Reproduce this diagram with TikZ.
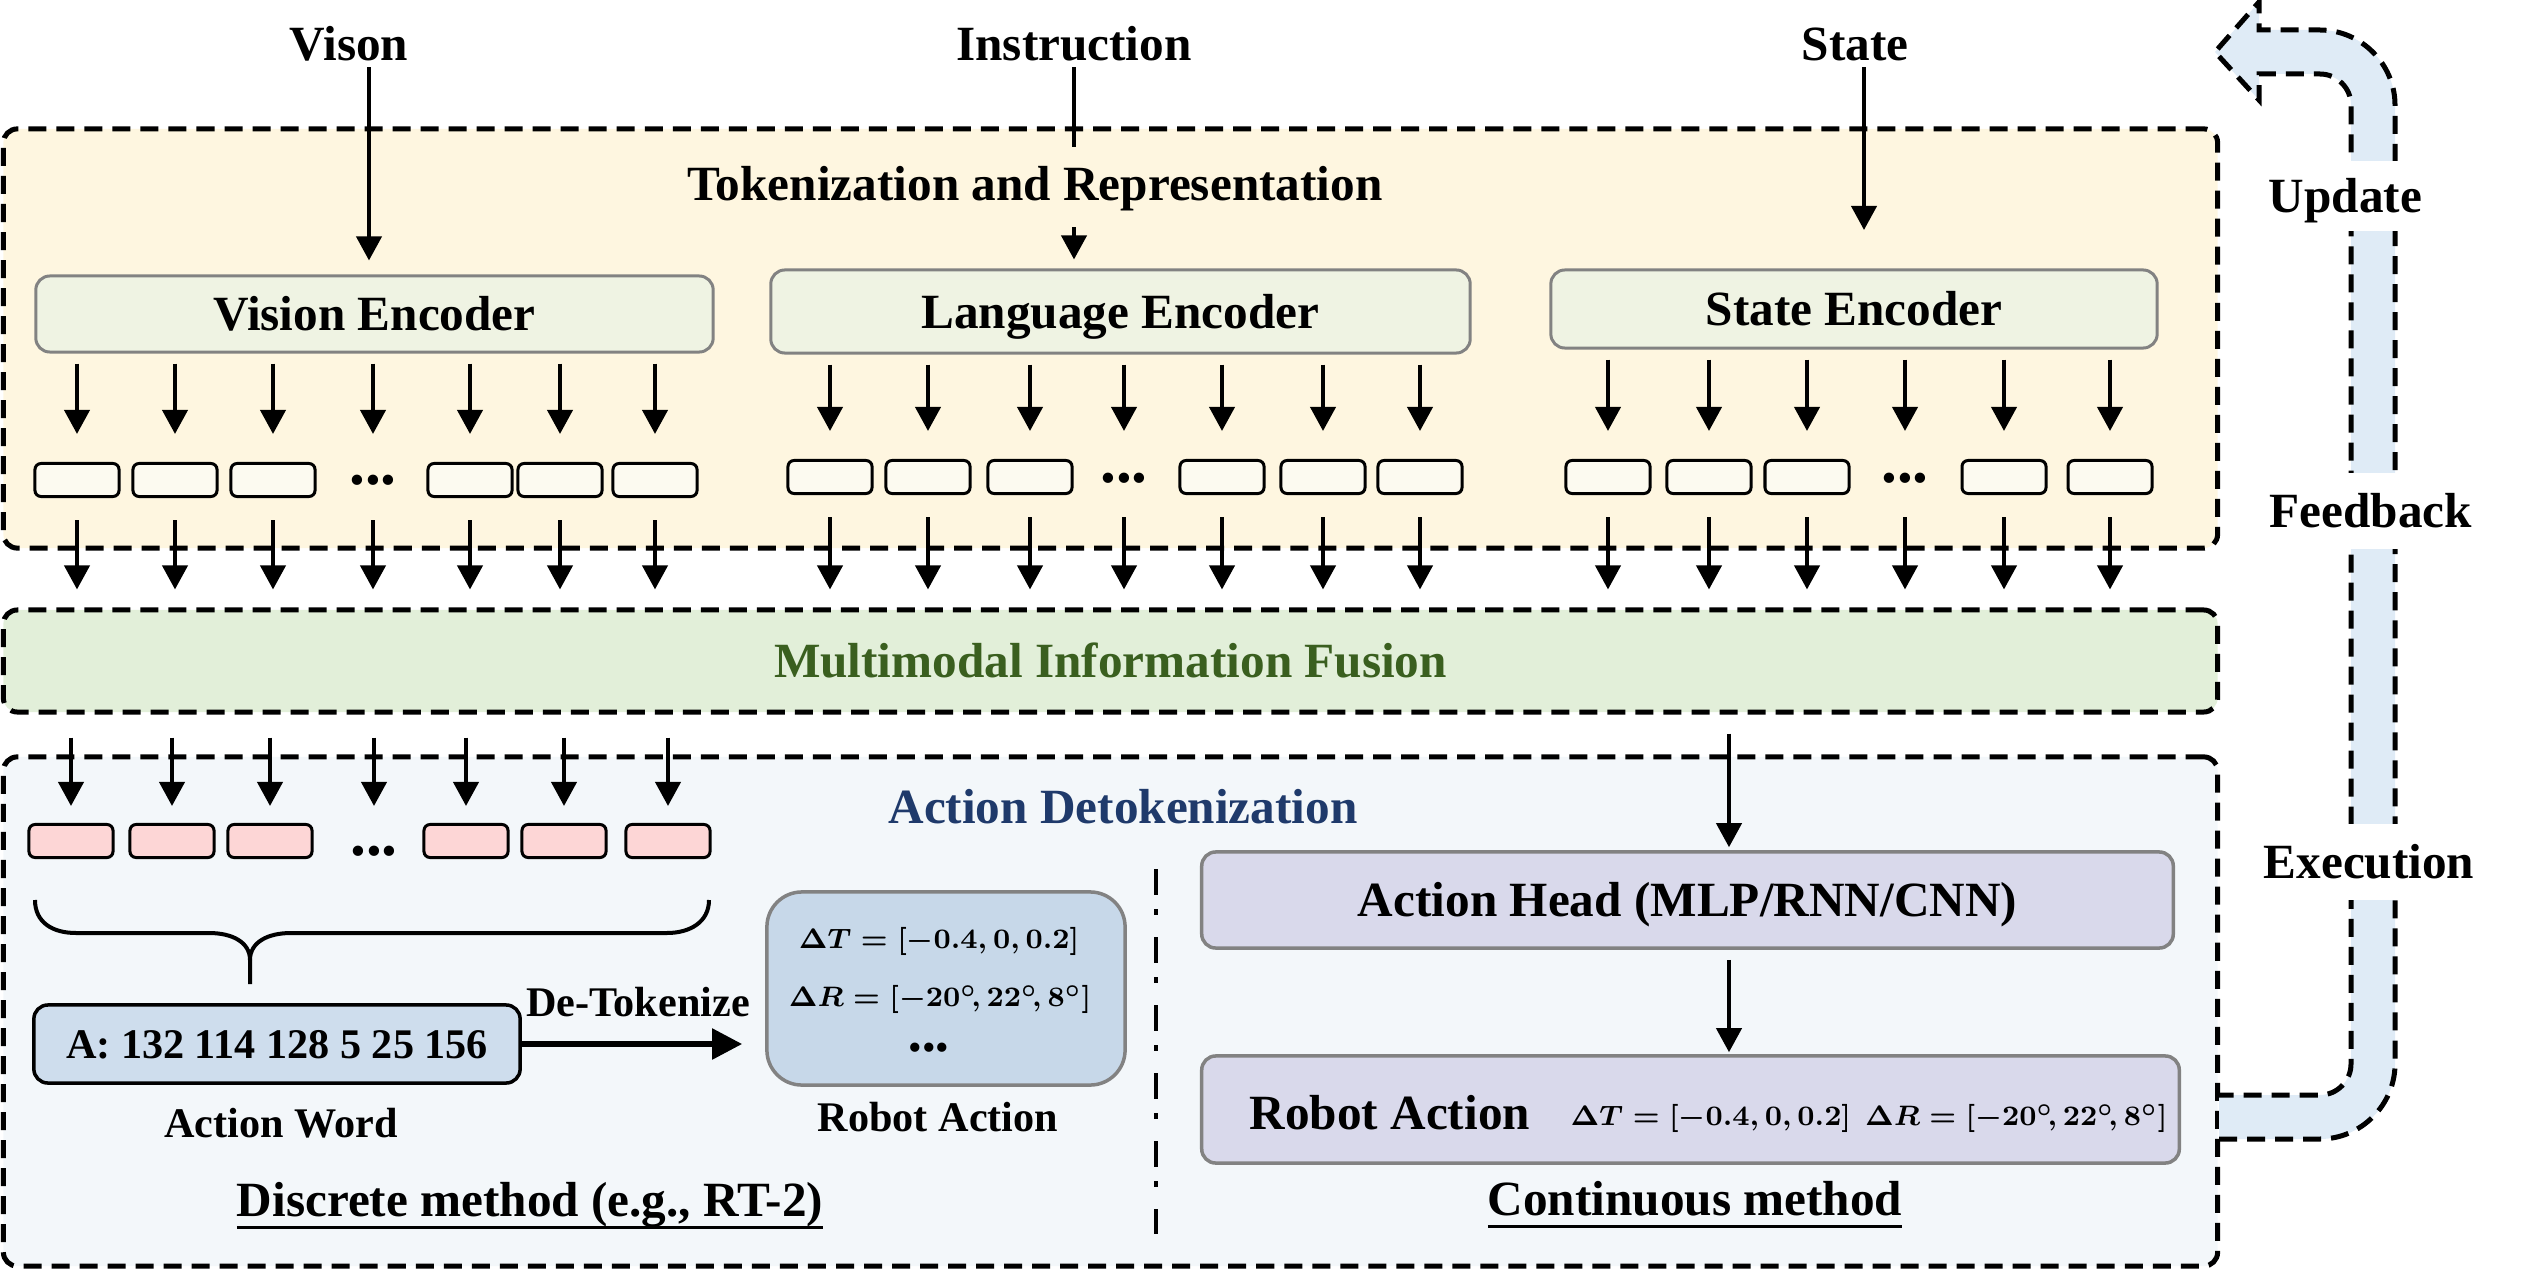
\documentclass[tikz,border=0pt]{standalone}
\usepackage{fontspec}
\setmainfont{Liberation Serif}
\usetikzlibrary{arrows.meta}
\definecolor{tokbg}{HTML}{FEF6E0}
\definecolor{encfill}{HTML}{EFF3E3}
\definecolor{grayline}{HTML}{828282}
\definecolor{tokfill}{HTML}{FCFAF0}
\definecolor{fusionfill}{HTML}{E2EFD9}
\definecolor{fusiongreen}{HTML}{3A5F1F}
\definecolor{detokbg}{HTML}{F3F7FA}
\definecolor{detokblue}{HTML}{1F3A6B}
\definecolor{pinkfill}{HTML}{FDD6D6}
\definecolor{wordfill}{HTML}{CEDDED}
\definecolor{rafill}{HTML}{C7D8E9}
\definecolor{headfill}{HTML}{D9D9EB}
\definecolor{bandfill}{HTML}{DFEBF6}
\newcommand{\bfbig}{\fontsize{14}{16}\selectfont\bfseries}
\newcommand{\bfsmall}{\fontsize{12}{14}\selectfont\bfseries}
\newcommand{\bfmath}{\fontsize{8.2}{10}\selectfont\boldmath}
\newcommand{\ulbox}[1]{\setbox0=\hbox{#1}\rlap{\rule[-3.8pt]{\wd0}{0.85pt}}\box0}
\tikzstyle{stage}=[draw, line width=0.05cm, dash pattern=on 0.18cm off 0.1cm, rounded corners=0.14cm, inner sep=0pt]
\tikzstyle{encoder}=[draw=grayline, fill=encfill, line width=0.03cm, rounded corners=0.14cm, font=\bfbig, text height=0.33cm, text depth=0pt, inner sep=0pt]
\tikzstyle{headbox}=[draw=grayline, fill=headfill, line width=0.035cm, rounded corners=0.14cm, font=\bfbig, text height=0.33cm, text depth=0pt, inner sep=0pt]
\tikzstyle{token}=[draw, fill=tokfill, line width=0.03cm, rounded corners=0.06cm, minimum width=0.84cm, minimum height=0.33cm, inner sep=0pt]
\tikzstyle{atoken}=[token, fill=pinkfill]
\tikzstyle{tokdots}=[font=\fontsize{18}{18}\selectfont\bfseries, inner sep=0pt, anchor=base]
\tikzstyle{edge}=[draw, line width=0.04cm, -{Triangle[length=0.24cm,width=0.25cm]}]
\tikzstyle{bigedge}=[draw, line width=0.055cm, -{Triangle[length=0.3cm,width=0.3cm]}]
\tikzstyle{title}=[font=\bfbig, inner sep=0pt, anchor=base]
\tikzstyle{small}=[font=\bfsmall, inner sep=0pt, anchor=base]
\tikzstyle{mathlabel}=[font=\bfmath, inner sep=0pt, anchor=base]
\tikzstyle{looplabel}=[font=\bfbig, fill=white, anchor=west, text height=0.33cm, text depth=0pt, inner xsep=0pt]
\tikzstyle{band}=[draw, line width=0.05cm, dash pattern=on 0.18cm off 0.1cm]
\tikzstyle{divider}=[draw, line width=0.04cm, dash pattern=on 0.26cm off 0.14cm on 0.06cm off 0.22cm]

\begin{document}
\begin{tikzpicture}[x=0.01cm, y=-0.01cm]
    \useasboundingbox (0,0) rectangle (2524,1276);

    % First we draw the three stages
    \node[stage, fill=tokbg, minimum width=22.13cm, minimum height=4.19cm] (tokbox) at (1110.5,338.5) {};
    \node[stage, fill=fusionfill, minimum width=22.13cm, minimum height=1.02cm, font=\bfbig, text=fusiongreen, text height=0.33cm, text depth=0pt] (fusion) at (1110.5,661) {Multimodal Information Fusion};
    \node[stage, fill=detokbg, minimum width=22.13cm, minimum height=5.09cm] (detokbox) at (1110.5,1011.5) {};

    % Feedback loop on the right
    \fill[bandfill] (2219,1139) -- (2320,1139) .. controls (2361,1139) and (2395,1105) .. (2395,1064) -- (2395,105) .. controls (2395,64) and (2361,30) .. (2320,30) -- (2259,30) -- (2259,2) -- (2215,52) -- (2259,100) -- (2259,74) -- (2320,74) .. controls (2337,74) and (2351,88) .. (2351,105) -- (2351,1064) .. controls (2351,1081) and (2337,1095) .. (2320,1095) -- (2219,1095) -- cycle;
    \path[band] (2219,1139) -- (2320,1139) .. controls (2361,1139) and (2395,1105) .. (2395,1064) -- (2395,105) .. controls (2395,64) and (2361,30) .. (2320,30) -- (2259,30) -- (2259,2) -- (2215,52) -- (2259,100) -- (2259,74) -- (2320,74) .. controls (2337,74) and (2351,88) .. (2351,105) -- (2351,1064) .. controls (2351,1081) and (2337,1095) .. (2320,1095) -- (2219,1095);
    \node[looplabel, inner ysep=0.185cm] (update) at (2268,196) {Update};
    \node[looplabel, inner ysep=0.21cm] (feedback) at (2269,511) {Feedback};
    \node[looplabel, inner ysep=0.21cm] (execution) at (2263,862) {Execution};

    % Inputs and encoders
    \node[title] (vison) at (349,61) {Vison};
    \node[title] (instr) at (1074,61) {Instruction};
    \node[title] (state) at (1855,61) {State};
    \node[title] (tokt) at (1035,201) {Tokenization and Representation};
    \node[encoder, minimum width=6.77cm, minimum height=0.76cm] (venc) at (374.5,314) {Vision Encoder};
    \node[encoder, minimum width=6.99cm, minimum height=0.83cm] (lenc) at (1120.5,311.5) {Language Encoder};
    \node[encoder, minimum width=6.06cm, minimum height=0.78cm] (senc) at (1854,309) {State Encoder};

    \coordinate (vx) at (369,0);
    \coordinate (stateend) at (1864,230);
    \path[edge, shorten <=0.05cm, shorten >=0.14cm] (vison.south -| vx) -- (vx |- venc.north);
    \draw[line width=0.04cm, shorten <=0.05cm, shorten >=0.19cm] (instr.south) -- (instr.south |- tokt.north);
    \path[edge, shorten <=0.15cm, shorten >=0.09cm] (instr.south |- tokt.south) -- (instr.south |- lenc.north);
    \path[edge, shorten <=0.05cm] (state.south -| stateend) -- (stateend);

    % Tokens
    \foreach \x/\name in {77/v1, 175/v2, 273/v3, 470/v5, 560/v6, 655/v7}
        \node[token] (\name) at (\x,480) {};
    \node[tokdots] (v4) at (373,484) {...};
    \foreach \x/\name in {830/l1, 928/l2, 1030/l3, 1222/l5, 1323/l6, 1420/l7}
        \node[token] (\name) at (\x,477) {};
    \node[tokdots] (l4) at (1124,482) {...};
    \foreach \x/\name in {1608/s1, 1709/s2, 1807/s3, 2004/s5, 2110/s6}
        \node[token] (\name) at (\x,477) {};
    \node[tokdots] (s4) at (1905,482) {...};
    \foreach \x/\name in {71/a1, 172/a2, 270/a3, 466/a5, 564/a6, 668/a7}
        \node[atoken] (\name) at (\x,841) {};
    \node[tokdots] (a4) at (374,855) {...};

    % Connect encoders, tokens and fusion
    \foreach \i in {1,...,7} {
        \path[edge, shorten <=0.1cm, shorten >=0.46cm] (venc.south -| v\i) -- (v\i |- v1);
        \path[edge, shorten <=0.4cm, shorten >=0.18cm] (v\i |- v1) -- (v\i |- fusion.north);
        \path[edge, shorten <=0.1cm, shorten >=0.46cm] (lenc.south -| l\i) -- (l\i |- l1);
        \path[edge, shorten <=0.4cm, shorten >=0.18cm] (l\i |- l1) -- (l\i |- fusion.north);
        \path[edge, shorten <=0.23cm, shorten >=0.35cm] (fusion.south -| a\i) -- (a\i |- a1);
    }
    \foreach \i in {1,...,6} {
        \path[edge, shorten <=0.1cm, shorten >=0.46cm] (senc.south -| s\i) -- (s\i |- s1);
        \path[edge, shorten <=0.4cm, shorten >=0.18cm] (s\i |- s1) -- (s\i |- fusion.north);
    }

    % Discrete method
    \node[title, text=detokblue] (detokt) at (1123,823) {Action Detokenization};
    \draw[line width=0.04cm] (35,900) .. controls (35,922) and (52,933) .. (76,933) -- (209,933) .. controls (232,933) and (250,942) .. (250,960) -- (250,984);
    \draw[line width=0.04cm] (250,960) .. controls (250,942) and (268,933) .. (291,933) -- (667,933) .. controls (690,933) and (709,922) .. (709,900);
    \node[draw, fill=wordfill, line width=0.035cm, rounded corners=0.14cm, minimum width=4.86cm, minimum height=0.78cm, inner sep=0pt, font=\bfsmall, text height=0.28cm, text depth=0pt] (aword) at (277,1044) {A: 132 114 128 5 25 156};
    \node[small] (awlabel) at (281,1137) {Action Word};
    \node[draw=grayline, fill=rafill, line width=0.035cm, rounded corners=0.35cm, minimum width=3.58cm, minimum height=1.93cm] (rbox) at (946,988.5) {};
    \node[mathlabel] (dT) at (939,948) {$\Delta T=[-0.4,0,0.2]$};
    \node[mathlabel] (dR) at (940,1006) {$\Delta R=[-20^{\circ}\!,22^{\circ}\!,8^{\circ}]$};
    \node[font=\fontsize{11}{11}\selectfont, inner sep=0pt] (rdots) at (929,1052) {\textbullet\textbullet\textbullet};
    \node[small] (ralabel) at (938,1131) {Robot Action};
    \path[bigedge, shorten >=0.23cm] (aword.east) -- (aword.east -| rbox.west);
    \node[small] (detok) at (638,1016) {De-Tokenize};
    \node[title] (discrete) at (530,1216) {\ulbox{Discrete method (e.g., RT-2)}};

    \draw[divider] (1156,869) -- (1156,1234);

    % Continuous method
    \coordinate (hx) at (1729,0);
    \node[headbox, minimum width=9.71cm, minimum height=0.96cm] (ahead) at (1687.5,900) {Action Head (MLP/RNN/CNN)\hspace{0.3cm}};
    \node[headbox, minimum width=9.77cm, minimum height=1.07cm] (ract) at (1690.5,1109.5) {};
    \node[title, anchor=base west] (ractlabel) at (1249,1129) {Robot Action};
    \node[mathlabel, anchor=base west] (ractmath) at (1570,1125) {$\Delta T=[-0.4,0,0.2]$\hspace{4pt}$\Delta R=[-20^{\circ}\!,22^{\circ}\!,8^{\circ}]$};
    \path[edge, shorten <=0.19cm, shorten >=0.03cm] (fusion.south -| hx) -- (hx |- ahead.north);
    \path[edge, shorten <=0.1cm, shorten >=0.02cm] (ahead.south -| hx) -- (hx |- ract.north);
    \node[title] (continuous) at (1695,1215) {\ulbox{Continuous method}};
\end{tikzpicture}
\end{document}
